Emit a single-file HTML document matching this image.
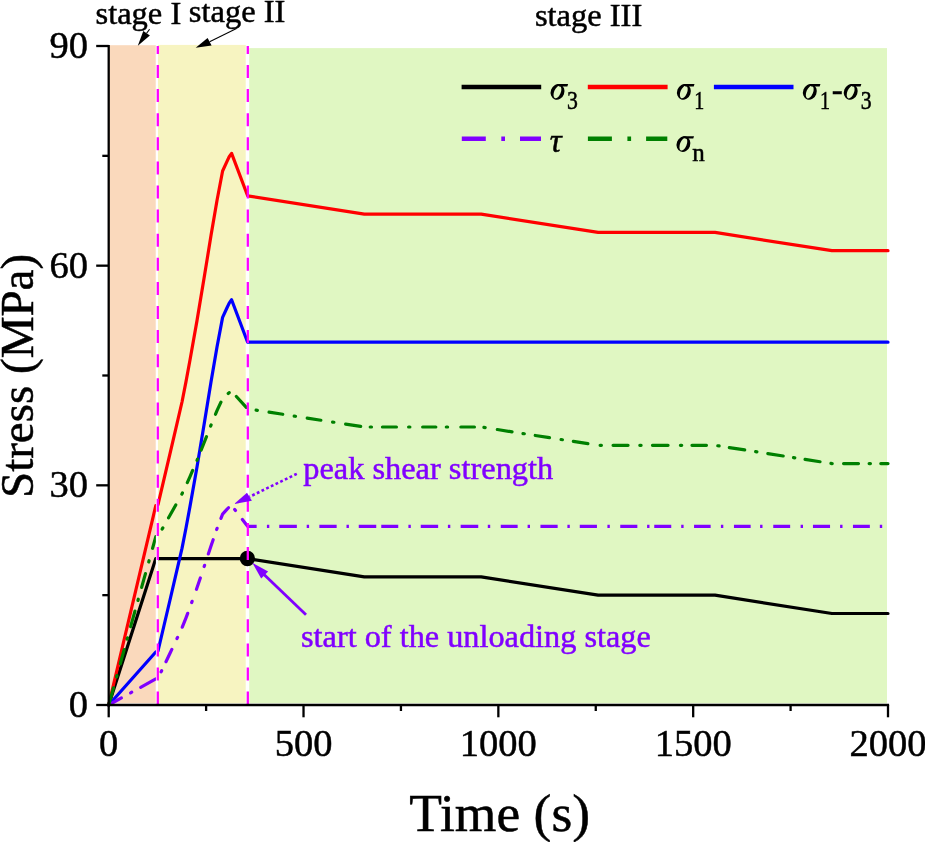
<!DOCTYPE html>
<html><head><meta charset="utf-8"><style>
html,body{margin:0;padding:0;background:#fff;overflow:hidden}
svg{display:block;will-change:transform}
text{font-family:"Liberation Serif",serif}
.t{stroke:#000;stroke-width:0.5px}
.tp{stroke:#8000FF;stroke-width:0.5px}
.c polyline{fill:none;stroke-width:3.2px;stroke-linejoin:round}
</style></head><body>
<svg width="925" height="842" viewBox="0 0 925 842">
<rect x="0" y="0" width="925" height="842" fill="#fff"/>
<rect x="108.7" y="45.2" width="47.1" height="658.1" fill="#FAD9BC"/>
<rect x="158" y="44.9" width="87.7" height="658.4" fill="#F7F4C1"/>
<rect x="249.2" y="48.1" width="637.8" height="655.2" fill="#E0F7C2"/>
<g class="c">
<polyline points="108.7,705.0 155.8,558.6" stroke="#000" stroke-linecap="round"/>
<polyline points="158.0,558.6 247.6,558.6 364.3,576.9 481.2,576.9 598.1,595.2 715.0,595.2 831.9,613.5 888.0,613.5" stroke="#000" stroke-linecap="round"/>
<polyline points="108.7,705.0 155.8,505.6" stroke="#F00" stroke-linecap="round"/>
<polyline points="158.0,504.6 164.0,479.1 170.0,453.6 176.0,427.8 182.0,402.0 186.0,381.6 190.0,360.0 197.0,320.6 204.0,278.6 211.0,235.6 217.0,200.6 222.6,171.0 226.9,161.6 229.2,156.7 231.6,153.4 247.6,195.8 364.3,214.1 481.2,214.1 598.1,232.4 715.0,232.4 831.9,250.7 888.0,250.7" stroke="#F00" stroke-linecap="round"/>
<polyline points="108.7,705.0 155.8,652.0" stroke="#00F" stroke-linecap="round"/>
<polyline points="158.0,651.0 164.0,625.5 170.0,600.0 176.0,574.2 182.0,548.4 186.0,528.0 190.0,506.4 197.0,467.0 204.0,425.0 211.0,382.0 217.0,347.0 222.6,317.4 226.9,308.0 229.2,303.1 231.6,299.8 247.6,342.2 888.0,342.2" stroke="#00F" stroke-linecap="round"/>
<polyline points="108.7,705.0 155.8,678.9" stroke="#8000FF" stroke-linecap="round" stroke-dasharray="14.53 10.53 1.30 10.17 17.32 5.00"/>
<polyline points="158.0,678.4 164.0,665.8 170.0,653.3 176.0,640.6 182.0,627.9 186.0,617.8 190.0,607.2 197.0,587.8 204.0,567.1 211.0,545.9 217.0,528.6 222.6,514.1 226.9,509.4 229.2,507.0 231.6,505.4 247.6,526.3" stroke="#8000FF" stroke-linecap="round" stroke-dasharray="1.30 10.03 13.60 12.06 1.30 11.20 14.88 11.45 1.30 12.79 12.02 12.06 1.30 11.97 15.03 10.73 1.30 10.65 13.27 8.99 1.30 11.39 8.55 12.18" stroke-dashoffset="-7.18"/>
<polyline points="247.6,526.3 888.0,526.3" stroke="#8000FF" stroke-linecap="butt" stroke-dasharray="9.05 10.25 2.40 9.95 17.60 9.85 2.40 10.25 17.30 9.85 2.40 9.85 17.50 5.00 17.00 10.15 2.40 9.95 17.40 9.75 2.40 10.35 17.60 9.55 2.40 10.55 16.90 9.95 2.40 10.45 17.20 9.75 2.40 9.95 17.20 10.45 2.40 10.45 17.10 9.75 2.40 4.75 17.00 9.95 2.40 10.45 16.60 10.25 2.40 10.65 16.70 9.45 2.40 10.75 16.90 10.45 2.40 9.95 17.10 10.05 2.40 10.45 16.90 9.95 2.40 10.80"/>
<polyline points="108.7,705.0 155.8,536.7" stroke="#008000" stroke-linecap="round" stroke-dasharray="17.84 11.34 1.30 12.36 14.64 10.96 1.30 11.61 16.09 11.10 1.30 12.27 14.30 12.12 1.30 12.86 12.07 5.00"/>
<polyline points="158.0,536.3 164.0,525.8 170.0,515.2 176.0,504.6 182.0,493.9 186.0,485.5 190.0,476.6 197.0,460.3 204.0,443.0 211.0,425.2 217.0,410.7 222.6,398.5 226.9,394.6 229.2,392.6 231.6,391.3 247.6,408.8 364.3,427.0 481.2,427.0 598.1,445.3 715.0,445.3 831.9,463.6 888.0,463.6" stroke="#008000" stroke-linecap="round" stroke-dasharray="1.30 11.63 14.63 12.42 1.30 11.52 13.26 11.10 1.30 9.63 14.50 11.27 1.30 11.60 13.27 11.55 1.30 9.78 14.69 10.55 1.30 11.78 13.90 11.58 1.30 11.89 13.79 11.89 1.30 11.89 15.21 9.58 1.30 10.95 14.00 12.15 1.30 12.75 13.20 10.45 1.30 13.25 13.60 9.49 1.30 12.29 14.91 11.08 1.30 11.08 14.40 11.79 1.30 11.08 14.71 12.36 1.30 11.65 15.00 11.75 1.30 11.35 15.60 12.35 1.30 10.25 14.50 11.39 1.30 10.37 15.52 11.08 1.30 11.08 15.52 10.47 1.30 10.37 15.11 11.08 1.30 11.35 14.90 10.65 1.30 10.35 7.30 13.42" stroke-dashoffset="-8.42"/>
</g>
<rect x="155.9" y="44.9" width="2.1" height="658.4" fill="#fff"/>
<circle cx="247.4" cy="558.5" r="7.7" fill="#000"/>
<g stroke="#FF00FF" stroke-width="2.3" stroke-dasharray="13 11.1" stroke-dashoffset="5.1">
<line x1="157.8" y1="46" x2="157.8" y2="705"/>
<line x1="247.8" y1="46" x2="247.8" y2="705"/>
</g>
<g stroke="#000" stroke-width="2.3" fill="none">
<line x1="108.7" y1="44.9" x2="108.7" y2="706.1"/>
<line x1="107.6" y1="705" x2="889.1" y2="705"/>
<line x1="96.2" y1="705.00" x2="108.7" y2="705.00"/>
<line x1="96.2" y1="485.33" x2="108.7" y2="485.33"/>
<line x1="96.2" y1="265.67" x2="108.7" y2="265.67"/>
<line x1="96.2" y1="46.00" x2="108.7" y2="46.00"/>
<line x1="102.3" y1="595.17" x2="108.7" y2="595.17"/>
<line x1="102.3" y1="375.50" x2="108.7" y2="375.50"/>
<line x1="102.3" y1="155.83" x2="108.7" y2="155.83"/>
<line x1="108.70" y1="705" x2="108.70" y2="717.3"/>
<line x1="303.52" y1="705" x2="303.52" y2="717.3"/>
<line x1="498.35" y1="705" x2="498.35" y2="717.3"/>
<line x1="693.18" y1="705" x2="693.18" y2="717.3"/>
<line x1="888.00" y1="705" x2="888.00" y2="717.3"/>
<line x1="206.11" y1="705" x2="206.11" y2="711"/>
<line x1="400.94" y1="705" x2="400.94" y2="711"/>
<line x1="595.76" y1="705" x2="595.76" y2="711"/>
<line x1="790.59" y1="705" x2="790.59" y2="711"/>
</g>
<g font-size="38.5" fill="#000" class="t">
<text x="88" y="717.0" text-anchor="end">0</text>
<text x="88" y="497.3" text-anchor="end">30</text>
<text x="88" y="277.7" text-anchor="end">60</text>
<text x="88" y="58.0" text-anchor="end">90</text>
<text x="108.7" y="756" text-anchor="middle">0</text>
<text x="303.5" y="756" text-anchor="middle">500</text>
<text x="498.3" y="756" text-anchor="middle">1000</text>
<text x="693.2" y="756" text-anchor="middle">1500</text>
<text x="888.0" y="756" text-anchor="middle">2000</text>
</g>
<text class="t" x="409.2" y="831" font-size="53.5">Time (s)</text>
<text class="t" transform="translate(33.3,498) rotate(-90)" font-size="47">Stress (MPa)</text>
<g font-size="32.5" fill="#000" class="t">
<text x="95.5" y="24.3">stage I</text>
<text x="188.8" y="21.6">stage II</text>
<text x="534.9" y="26">stage III</text>
</g>
<g stroke="#000" stroke-width="1.1">
<line x1="149.6" y1="29.2" x2="146.6" y2="33.3"/>
<line x1="236.5" y1="28.6" x2="209.6" y2="41.8"/>
</g>
<polygon points="137.8,45.7 143.3,31.0 149.9,35.5" fill="#000"/>
<polygon points="195.7,47.8 207.6,38.1 211.6,45.4" fill="#000"/>
<g stroke-width="4.5">
<line x1="461.6" y1="86.9" x2="541.2" y2="86.9" stroke="#000"/>
<line x1="587.8" y1="86.9" x2="667.6" y2="86.9" stroke="#F00"/>
<line x1="713.9" y1="86.9" x2="793.5" y2="86.9" stroke="#00F"/>
<line x1="461.8" y1="138.7" x2="541" y2="138.7" stroke="#8000FF" stroke-dasharray="24 15.5 3.7 15"/>
<line x1="587.9" y1="138.7" x2="667.3" y2="138.7" stroke="#008000" stroke-dasharray="24 15.5 3.7 15"/>
</g>
<g fill="#000">
<path fill-rule="evenodd" d="M563.94,94.23A6.80,8.00 20.0 1 0 551.16,89.57A6.80,8.00 20.0 1 0 563.94,94.23ZM560.51,93.34A3.30,6.60 22.0 1 0 554.39,90.86A3.30,6.60 22.0 1 0 560.51,93.34Z"/><path d="M557.00,84.00L568.15,84.00L567.35,86.40L559.00,86.40Z"/><path fill-rule="evenodd" d="M690.29,94.23A6.80,8.00 20.0 1 0 677.51,89.57A6.80,8.00 20.0 1 0 690.29,94.23ZM686.86,93.34A3.30,6.60 22.0 1 0 680.74,90.86A3.30,6.60 22.0 1 0 686.86,93.34Z"/><path d="M683.35,84.00L694.50,84.00L693.70,86.40L685.35,86.40Z"/><path fill-rule="evenodd" d="M816.24,94.23A6.80,8.00 20.0 1 0 803.46,89.57A6.80,8.00 20.0 1 0 816.24,94.23ZM812.81,93.34A3.30,6.60 22.0 1 0 806.69,90.86A3.30,6.60 22.0 1 0 812.81,93.34Z"/><path d="M809.30,84.00L820.45,84.00L819.65,86.40L811.30,86.40Z"/><path fill-rule="evenodd" d="M857.14,94.23A6.80,8.00 20.0 1 0 844.36,89.57A6.80,8.00 20.0 1 0 857.14,94.23ZM853.71,93.34A3.30,6.60 22.0 1 0 847.59,90.86A3.30,6.60 22.0 1 0 853.71,93.34Z"/><path d="M850.20,84.00L861.35,84.00L860.55,86.40L852.20,86.40Z"/><path fill-rule="evenodd" d="M689.84,146.43A6.80,8.00 20.0 1 0 677.06,141.77A6.80,8.00 20.0 1 0 689.84,146.43ZM686.41,145.54A3.30,6.60 22.0 1 0 680.29,143.06A3.30,6.60 22.0 1 0 686.41,145.54Z"/><path d="M682.90,136.20L694.05,136.20L693.25,138.60L684.90,138.60Z"/>
</g>
<g fill="#000" class="t" font-size="25">
<text transform="translate(567.1,109) scale(0.87,1)">3</text>
<text transform="translate(694.3,109) scale(0.8,1)">1</text>
<text transform="translate(820.1,109) scale(0.8,1)">1</text>
<text transform="translate(860.7,109) scale(0.87,1)">3</text>
<text x="692.2" y="160.9">n</text>
<text x="831.7" y="100.5" font-size="33">-</text>
<text x="549.7" y="151.8" font-size="33" font-style="italic">τ</text>
</g>
<line x1="296.8" y1="473.8" x2="249.5" y2="496.8" stroke="#8000FF" stroke-width="2.6" stroke-dasharray="2.8 2.4"/>
<polygon points="234.1,504.1 247,492.7 251.9,500.8" fill="#8000FF"/>
<line x1="306" y1="614.8" x2="264" y2="574.5" stroke="#8000FF" stroke-width="2.8"/>
<polygon points="252.3,562.7 268.1,571.6 261.2,578.5" fill="#8000FF"/>
<g font-size="32" fill="#8000FF" class="tp">
<text x="303.2" y="478.6" font-size="32.4">peak shear strength</text>
<text x="301" y="647.4" font-size="32.3">start of the unloading stage</text>
</g>
</svg>
</body></html>
